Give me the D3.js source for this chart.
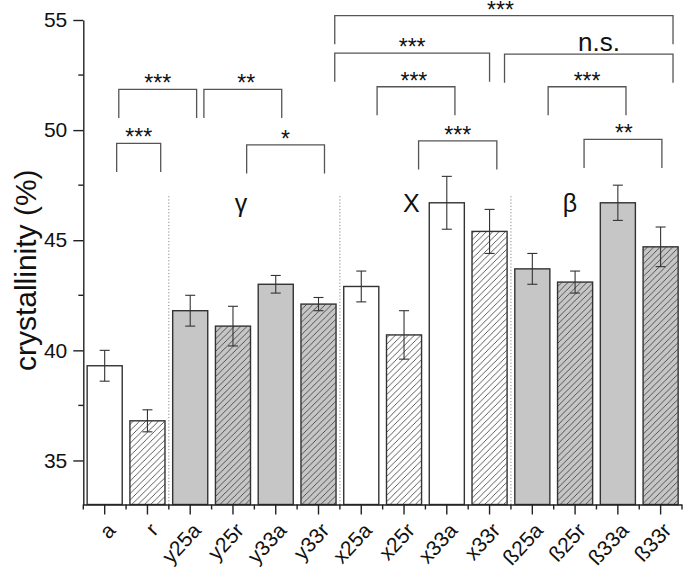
<!DOCTYPE html>
<html><head><meta charset="utf-8">
<script src="https://cdn.jsdelivr.net/npm/d3@7"></script>
<style>body{margin:0;background:#fff}svg{display:block}</style>
</head><body><svg id="c" width="685" height="569"></svg>
<script>
// ---- data ----
const categories = ['a','r','y25a','y25r','y33a','y33r','x25a','x25r','x33a','x33r','ß25a','ß25r','ß33a','ß33r'];
const values = [39.3,36.8,41.8,41.1,43.0,42.1,42.9,40.7,46.7,45.4,43.7,43.1,46.7,44.7];
const errors = [0.7,0.5,0.7,0.9,0.4,0.3,0.7,1.1,1.2,1.0,0.7,0.5,0.8,0.9];
const fillKind = ['white','white','gray','gray','gray','gray','white','white','white','white','gray','gray','gray','gray'];
const hatched = [false,true,false,true,false,true,false,true,false,true,false,true,false,true];
const yTicks = [35,40,45,50,55];
const yMinorTicks = [37.5,42.5,47.5,52.5];
const yDomain = [33,55];
const separatorsBefore = ['y25a','x25a','ß25a'];
const separatorTop = 47;
const groupLabels = ['γ','X','β'];
const groupLabelCats = ['y25r','x25r','ß25r'];
const groupLabelLevel = 47.0;
// brackets: from category, to category, level (%), label
const bracketFrom = ['a','a','y25a','y25r','x25a','x25a','x33r','x25a','ß25a','x25r','ß25r'];
const bracketTo   = ['r','y25a','y33a','y33r','ß33r','x33r','ß33r','x33a','ß33a','x33r','ß33r'];
const bracketLevel = [49.4,51.85,51.85,49.33,55.2,53.5,53.45,51.97,51.97,49.51,49.58];
const bracketLabel = ['***','***','**','*','***','***','n.s.','***','***','***','**'];
const yTitle = 'crystallinity (%)';

// ---- layout ----
const plotLeft=83.3, plotRight=682, plotTop=20, plotBottom=504.5;
const svg=d3.select('#c');
const font='Liberation Sans, Arial, sans-serif';

const x=d3.scaleBand().domain(categories).range([plotLeft,plotRight]).paddingInner(0.18).paddingOuter(0.09);
const y=d3.scaleLinear().domain(yDomain).range([plotBottom,plotTop]);
const step=x.step(), bw=x.bandwidth();
const cx=c=>x(c)+bw/2;
const slotLeft=c=>x(c)-(step-bw)/2;

// layout offsets (fractions of a category step)
const bracketOffsets=[[0.28,0.31],[0.33,0.15],[0.32,0.14],[0.32,0.14],[-0.62,0.29],[-0.62,0.0],[0.35,0.29],[0.37,0.19],[0.37,0.19],[0.34,0.17],[0.21,0.03]];
const bracketLabelShift=[0,0,0.08,0,-0.08,0,0.24,-0.05,0,0,0.02];
const groupLabelShift=[0.19,0.17,-0.12];
const legLen=1.3;

const defs=svg.append('defs');
function hatch(id,bg){
  const p=defs.append('pattern').attr('id',id).attr('patternUnits','userSpaceOnUse').attr('width',6.3).attr('height',6.3);
  p.append('rect').attr('width',6.3).attr('height',6.3).attr('fill',bg);
  p.append('path').attr('d','M-1,1 L1,-1 M0,6.3 L6.3,0 M5.3,7.3 L7.3,5.3').attr('stroke','#333').attr('stroke-width',0.8);
}
const grayFill='#c6c6c6';
hatch('hw','#ffffff'); hatch('hg',grayFill);

// separators
svg.append('g').selectAll('line').data(separatorsBefore).join('line')
  .attr('x1',d=>slotLeft(d)).attr('x2',d=>slotLeft(d))
  .attr('y1',y(separatorTop)).attr('y2',plotBottom)
  .attr('stroke','#888').attr('stroke-width',1).attr('stroke-dasharray','1.2,2');

// bars
const data=categories.map((c,i)=>({c,v:values[i],e:errors[i],f:fillKind[i],h:hatched[i]}));
svg.append('g').selectAll('rect').data(data).join('rect')
  .attr('x',d=>x(d.c)).attr('width',bw)
  .attr('y',d=>y(d.v)).attr('height',d=>plotBottom-y(d.v))
  .attr('fill',d=>d.h?(d.f==='gray'?'url(#hg)':'url(#hw)'):(d.f==='gray'?grayFill:'#fff'))
  .attr('stroke','#333').attr('stroke-width',1.4);

// error bars
const eg=svg.append('g').attr('stroke','#333').attr('stroke-width',1.1).attr('fill','none');
data.forEach(d=>{
  const X=cx(d.c), t=y(d.v+d.e), b=y(d.v-d.e);
  eg.append('line').attr('x1',X).attr('x2',X).attr('y1',t).attr('y2',b);
  eg.append('line').attr('x1',X-5).attr('x2',X+5).attr('y1',t).attr('y2',t);
  eg.append('line').attr('x1',X-5).attr('x2',X+5).attr('y1',b).attr('y2',b);
});

// y axis
const ya=svg.append('g').attr('transform',`translate(${plotLeft},0)`)
  .call(d3.axisLeft(y).tickValues(yTicks).tickSize(10).tickSizeOuter(0).tickPadding(6).tickFormat(d3.format('d')));
ya.selectAll('text').attr('font-family',font).attr('font-size',21).attr('fill','#111');
ya.selectAll('line,path').attr('stroke','#222').attr('stroke-width',1.4);
svg.append('g').selectAll('line').data(yMinorTicks).join('line')
  .attr('x1',plotLeft-5).attr('x2',plotLeft).attr('y1',d=>y(d)).attr('y2',d=>y(d))
  .attr('stroke','#222').attr('stroke-width',1.4);

// x axis
const xa=svg.append('g').attr('transform',`translate(0,${plotBottom})`)
  .call(d3.axisBottom(x).tickSize(10).tickSizeOuter(0));
xa.selectAll('line,path').attr('stroke','#222').attr('stroke-width',1.4);
xa.select('.domain').attr('d',`M${plotLeft},0.5H${plotRight}`);
xa.selectAll('text').attr('font-family',font).attr('font-size',21).attr('fill','#111')
  .attr('text-anchor','end').attr('dy',0).attr('y',0)
  .attr('transform','translate(12,27) rotate(-47)');
const minorX=categories.map(slotLeft).concat([plotRight]);
svg.append('g').selectAll('line').data(minorX).join('line')
  .attr('x1',d=>d).attr('x2',d=>d).attr('y1',plotBottom).attr('y2',plotBottom+5)
  .attr('stroke','#222').attr('stroke-width',1.4);

// y title
svg.append('text').attr('transform',`translate(36,${(plotTop+plotBottom)/2+8}) rotate(-90)`)
  .attr('text-anchor','middle').attr('font-family',font).attr('font-size',30).attr('fill','#111').text(yTitle);

// group labels
svg.append('g').selectAll('text').data(groupLabels).join('text')
  .attr('x',(d,i)=>cx(groupLabelCats[i])+groupLabelShift[i]*step).attr('y',y(groupLabelLevel)+16)
  .attr('text-anchor','middle').attr('font-family',font).attr('font-size',25).attr('fill','#111').text(d=>d);

// brackets
const bg=svg.append('g');
bracketFrom.forEach((f,i)=>{
  const x1=cx(f)+bracketOffsets[i][0]*step, x2=cx(bracketTo[i])+bracketOffsets[i][1]*step;
  const yt=y(bracketLevel[i]), yb=y(bracketLevel[i]-legLen);
  bg.append('path').attr('d',`M${x1},${yb}V${yt}H${x2}V${yb}`)
    .attr('fill','none').attr('stroke','#555').attr('stroke-width',1.3);
  const lab=bracketLabel[i], ns=lab==='n.s.';
  bg.append('text').attr('x',(x1+x2)/2+bracketLabelShift[i]*step)
    .attr('y',ns?yt-3:yt+2)
    .attr('text-anchor','middle').attr('font-family',font)
    .attr('font-size',ns?26:23).attr('fill','#111').text(lab);
});
</script></body></html>
